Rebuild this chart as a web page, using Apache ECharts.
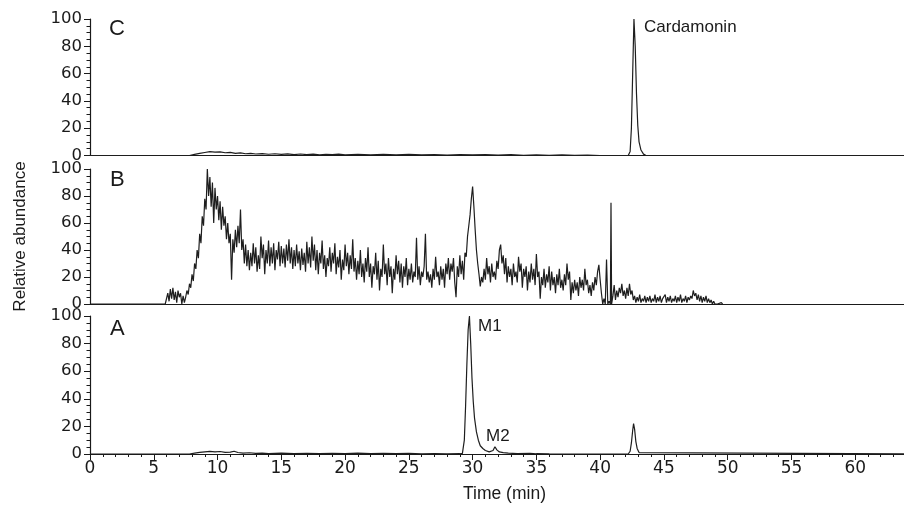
<!DOCTYPE html>
<html>
<head>
<meta charset="utf-8">
<script src="https://cdn.jsdelivr.net/npm/echarts@6/dist/echarts.min.js"></script>
<style>html,body{margin:0;padding:0;background:#fff}#c{width:904px;height:505px}</style>
</head>
<body>
<div id="c"></div>
<script>
// ---- data (time in min, relative abundance %) ----
var xTicks = [0, 5, 10, 15, 20, 25, 30, 35, 40, 45, 50, 55, 60];
var yTicks = [0, 20, 40, 60, 80, 100];
var panelLabels = ['C', 'B', 'A'];
var peakLabels = ['Cardamonin', 'M1', 'M2'];

var traceC = [[0,0],[7.8,0],[8.2,0.8],[8.6,1.5],[9.0,2.2],[9.4,2.8],[9.8,2.5],[10.2,2.7],[10.6,2.0],[11.0,2.3],[11.4,1.6],[11.8,1.9],[12.2,1.3],[12.6,1.6],[13.0,1.1],[13.5,1.4],[14.0,0.9],[14.5,1.3],[15,0.8],[15.5,1.2],[16,0.7],[16.5,1.1],[17,0.6],[17.5,1.0],[18,0.5],[18.5,0.9],[19,0.6],[19.5,1.0],[20,0.5],[21,0.9],[22,0.4],[23,0.8],[24,0.5],[25,0.9],[26,0.4],[27,0.7],[28,0.3],[29,0.6],[30,0.4],[31,0.7],[32,0.3],[33,0.6],[34,0.2],[35,0.5],[36,0.2],[37,0.4],[38,0.1],[39,0.3],[40,0],[42.2,0],[42.35,3],[42.45,20],[42.55,60],[42.65,100],[42.75,80],[42.85,45],[42.95,22],[43.05,10],[43.2,4],[43.4,1],[43.6,0],[65,0]];

var traceB = [[0,0],[5.9,0],[6.0,0],[6.1,8],[6.2,2],[6.3,11],[6.4,4],[6.5,12],[6.6,3],[6.7,9],[6.8,1],[6.9,10],[7.0,5],[7.1,8],[7.2,0],[7.3,6],[7.4,1],
[7.5,5],[7.6,10],[7.7,7],[7.8,15],[7.9,12],[8.0,22],[8.1,17],[8.2,30],[8.3,26],[8.4,40],[8.5,34],[8.6,52],[8.7,45],[8.8,65],[8.9,58],[9.0,78],[9.1,70],[9.2,100],[9.3,80],[9.4,94],[9.5,72],[9.6,90],[9.7,60],[9.8,86],[9.9,70],[10.0,80],[10.1,62],[10.2,76],[10.3,55],[10.4,72],[10.5,58],[10.6,65],[10.7,48],[10.8,60],[10.9,45],[11.0,52],[11.1,18],[11.2,48],[11.3,38],[11.4,55],[11.5,42],[11.6,58],[11.7,45],[11.8,70],[11.9,40],[12.0,48],[12.1,30],[12.2,44],[12.3,28],[12.4,40],[12.5,25],[12.6,38],[12.7,28],[12.8,45],[12.9,30],[13.0,42],[13.1,24],[13.2,36],[13.3,26],[13.4,50],[13.5,34],[13.6,44],[13.7,22],[13.8,40],[13.9,30],[14.0,47],[14.1,28],[14.2,42],[14.3,30],[14.4,45],[14.5,25],[14.6,40],[14.7,33],[14.8,46],[14.9,28],[15.0,43],[15.1,30],[15.2,41],[15.3,27],[15.4,44],[15.5,32],[15.6,48],[15.7,30],[15.8,42],[15.9,26],[16.0,40],[16.1,28],[16.2,44],[16.3,30],[16.4,39],[16.5,25],[16.6,41],[16.7,29],[16.8,38],[16.9,24],[17.0,46],[17.1,30],[17.2,42],
[17.3,27],[17.4,50],[17.5,32],[17.6,44],[17.7,25],[17.8,40],[17.9,22],[18.0,38],[18.1,30],[18.2,47],[18.3,26],[18.4,36],[18.5,20],[18.6,34],[18.7,28],[18.8,42],[18.9,24],[19.0,38],[19.1,30],[19.2,45],[19.3,22],[19.4,35],[19.5,27],[19.6,40],[19.7,18],[19.8,33],[19.9,25],[20.0,44],[20.1,28],[20.2,38],[20.3,22],[20.4,36],[20.5,26],[20.6,48],[20.7,24],[20.8,34],[20.9,18],[21.0,32],
[21.1,22],[21.2,40],[21.3,20],[21.4,30],[21.5,16],[21.6,34],[21.7,24],[21.8,42],[21.9,20],[22.0,30],[22.1,12],[22.2,28],[22.3,22],[22.4,38],[22.5,18],[22.6,32],[22.7,10],[22.8,26],[22.9,20],[23.0,44],[23.1,22],[23.2,30],[23.3,14],[23.4,34],[23.5,20],[23.6,28],[23.7,8],[23.8,26],[23.9,18],[24.0,36],[24.1,22],[24.2,32],[24.3,16],[24.4,30],[24.5,12],[24.6,28],[24.7,20],[24.8,34],[24.9,14],[25.0,26],[25.1,18],[25.2,30],[25.3,16],[25.4,24],[25.5,20],[25.6,49],[25.7,18],[25.8,28],[25.9,14],[26.0,24],[26.1,20],[26.2,28],[26.3,52],[26.4,18],[26.5,24],[26.6,16],[26.7,22],[26.8,12],[26.9,26],[27.0,18],[27.1,35],[27.2,20],[27.3,24],[27.4,14],[27.5,28],[27.6,18],[27.7,26],[27.8,12],[27.9,30],[28.0,22],[28.1,34],[28.2,18],[28.3,30],[28.4,24],[28.5,34],[28.6,16],[28.7,5],[28.8,28],[28.9,20],[29.0,36],[29.1,22],[29.2,32],[29.3,18],[29.4,38],[29.5,35],[29.6,50],[29.7,58],[29.8,66],[29.9,78],[30.0,87],[30.1,72],[30.2,55],[30.3,40],[30.4,30],[30.5,22],[30.6,13],[30.7,20],[30.8,16],[30.9,26],[31.0,18],[31.1,34],[31.2,22],[31.3,28],[31.4,16],[31.5,30],[31.6,20],[31.7,24],[31.8,18],[31.9,32],[32.0,26],[32.1,40],[32.2,44],[32.3,30],[32.4,36],[32.5,22],[32.6,34],[32.7,16],[32.8,28],[32.9,20],[33.0,26],[33.1,14],[33.2,30],[33.3,20],[33.4,24],[33.5,16],[33.6,35],[33.7,24],[33.8,30],[33.9,12],[34.0,26],[34.1,20],[34.2,28],[34.3,10],[34.4,24],[34.5,16],[34.6,30],[34.7,18],[34.8,26],[34.9,14],[35.0,37],[35.1,20],[35.2,24],[35.3,4],[35.4,20],[35.5,14],[35.6,26],[35.7,12],[35.8,22],[35.9,16],[36.0,28],[36.1,10],[36.2,24],[36.3,14],[36.4,20],[36.5,8],[36.6,22],[36.7,14],[36.8,26],[36.9,12],[37.0,18],[37.1,10],[37.2,22],[37.3,14],[37.4,30],[37.5,18],[37.6,24],[37.7,3],[37.8,16],[37.9,8],[38.0,18],[38.1,10],[38.2,16],[38.3,6],[38.4,20],[38.5,12],[38.6,18],[38.7,10],[38.8,26],[38.9,14],[39.0,18],[39.1,8],[39.2,14],[39.3,6],[39.4,16],[39.5,10],[39.6,20],[39.7,14],[39.8,24],[39.9,29],[40.0,18],[40.1,8],[40.2,0],[40.3,4],[40.4,0],[40.5,33],[40.6,0],[40.7,2],[40.8,0],[40.85,75],[40.9,0],[41.0,6],[41.1,14],[41.2,3],[41.3,10],[41.4,5],[41.5,12],[41.6,8],[41.7,15],[41.8,6],[41.9,10],[42.0,4],[42.1,12],[42.2,6],[42.3,15],[42.4,7],[42.5,10],[42.6,3],[42.7,6],[42.8,1],[42.9,5],[43.0,2],[43.1,7],[43.2,1],[43.3,4],[43.4,2],[43.5,6],[43.6,1],[43.7,5],[43.8,2],[43.9,6],[44.0,1],[44.1,4],[44.2,2],[44.3,7],[44.4,1],[44.5,5],[44.6,2],[44.7,6],[44.8,1],[44.9,4],[45.0,3],[45.1,7],[45.2,1],[45.3,5],[45.4,2],[45.5,6],[45.6,1],[45.7,4],[45.8,2],[45.9,6],[46.0,1],[46.1,5],[46.2,2],[46.3,7],[46.4,1],[46.5,4],[46.6,2],[46.7,6],[46.8,1],[46.9,5],[47.0,3],[47.1,6],[47.2,4],[47.3,10],[47.4,6],[47.5,8],[47.6,3],[47.7,7],[47.8,2],[47.9,6],[48.0,1],[48.1,5],[48.2,2],[48.3,6],[48.4,1],[48.5,4],[48.6,1],[48.7,3],[48.8,0],[48.9,2],[49.0,0],[49.1,1],[49.2,0],[49.5,1],[49.6,0]];

var traceA = [[0,0],[7.8,0],[8.2,0.6],[8.6,1.2],[9.0,1.6],[9.4,1.9],[9.8,1.5],[10.2,1.8],[10.6,1.2],[11.0,1.4],[11.3,2.0],[11.6,1.1],[12,0.6],[12.5,0.9],[13,0.4],[13.5,0.7],[14,0.3],[15,0.6],[16,0.3],[17,0.5],[18,0.2],[19,0.5],[20,0.3],[21,0.6],[22,0.2],[23,0.4],[24,0.2],[25,0.4],[26,0.1],[27,0.3],[28,0.1],[29,0.2],[29.2,0.5],[29.35,10],[29.45,35],[29.55,65],[29.65,90],[29.75,100],[29.85,80],[29.95,55],[30.05,38],[30.15,26],[30.3,16],[30.45,10],[30.6,6],[30.8,4],[31.0,2.5],[31.3,1.5],[31.6,2.5],[31.75,5.3],[31.9,3],[32.1,1.5],[32.4,1],[32.8,0.6],[33.5,0.3],[34.5,0.5],[35,0.2],[36,0.1],[38,0],[42.2,0],[42.35,2],[42.45,8],[42.55,17],[42.62,22],[42.7,18],[42.8,9],[42.9,4],[43.05,1],[43.2,0],[65,0]];

// ---- chart ----
var numFont = 'DejaVu Sans';
var txtFont = '"Liberation Sans", Arial, sans-serif';
var ink = '#1a1a1a';
var lineInk = '#1e1e1e';
var grids = [
  {left: 90, width: 829, top: 19, height: 136.5, outerBoundsMode: 'none', containLabel: false},
  {left: 90, width: 829, top: 169, height: 135, outerBoundsMode: 'none', containLabel: false},
  {left: 90, width: 829, top: 316, height: 138, outerBoundsMode: 'none', containLabel: false}
];
function xAxisFor(i) {
  var bottom = i === 2;
  return {
    type: 'value', gridIndex: i, min: xTicks[0], max: 65, interval: xTicks[1] - xTicks[0],
    axisLine: {show: true, onZero: false, lineStyle: {color: ink, width: 1.2}},
    axisTick: {show: bottom, length: 6, lineStyle: {color: ink}},
    minorTick: {show: bottom, splitNumber: 5, length: 3, lineStyle: {color: ink}},
    axisLabel: {show: bottom, fontSize: 17, fontFamily: numFont, color: ink, margin: 6, showMaxLabel: false,
      formatter: function (v) { return xTicks.indexOf(v) >= 0 ? String(v) : ''; }},
    splitLine: {show: false},
    name: bottom ? 'Time (min)' : '', nameLocation: 'middle', nameGap: 31,
    nameTextStyle: {fontSize: 17.5, fontFamily: txtFont, color: ink}
  };
}
function yAxisFor(i) {
  return {
    type: 'value', gridIndex: i, min: yTicks[0], max: yTicks[yTicks.length - 1], interval: yTicks[1] - yTicks[0],
    axisLine: {show: true, lineStyle: {color: ink, width: 1.2}},
    axisTick: {show: true, length: 6, lineStyle: {color: ink}},
    minorTick: {show: true, splitNumber: 4, length: 3.5, lineStyle: {color: ink}},
    axisLabel: {fontSize: 16.5, fontFamily: numFont, color: ink, margin: 8},
    splitLine: {show: false},
    name: i === 1 ? 'Relative abundance' : '', nameLocation: 'middle', nameGap: 61, nameRotate: 90,
    nameTextStyle: {fontSize: 17, fontFamily: txtFont, color: ink}
  };
}
function lineSeries(i, data) {
  return {
    type: 'line', xAxisIndex: i, yAxisIndex: i, data: data, symbol: 'none', showSymbol: false,
    lineStyle: {color: lineInk, width: 1.2}, z: 3, animation: false
  };
}
function txt(s, x, y, size) {
  return {type: 'text', x: x, y: y, z: 10, style: {text: s, fill: ink, font: size + 'px ' + txtFont,
    align: 'left', verticalAlign: 'middle', textAlign: 'left', textVerticalAlign: 'middle'}};
}
var chart = echarts.init(document.getElementById('c'), null, {renderer: 'canvas'});
chart.setOption({
  backgroundColor: '#fff',
  animation: false,
  grid: grids,
  xAxis: [xAxisFor(0), xAxisFor(1), xAxisFor(2)],
  yAxis: [yAxisFor(0), yAxisFor(1), yAxisFor(2)],
  series: [lineSeries(0, traceC), lineSeries(1, traceB), lineSeries(2, traceA)],
  graphic: [
    txt(panelLabels[0], 109, 29, 22),
    txt(panelLabels[1], 110, 180, 22),
    txt(panelLabels[2], 110, 329, 22),
    txt(peakLabels[0], 644, 27, 17),
    txt(peakLabels[1], 478, 326, 17),
    txt(peakLabels[2], 486, 436, 17)
  ]
});
</script>
</body>
</html>
